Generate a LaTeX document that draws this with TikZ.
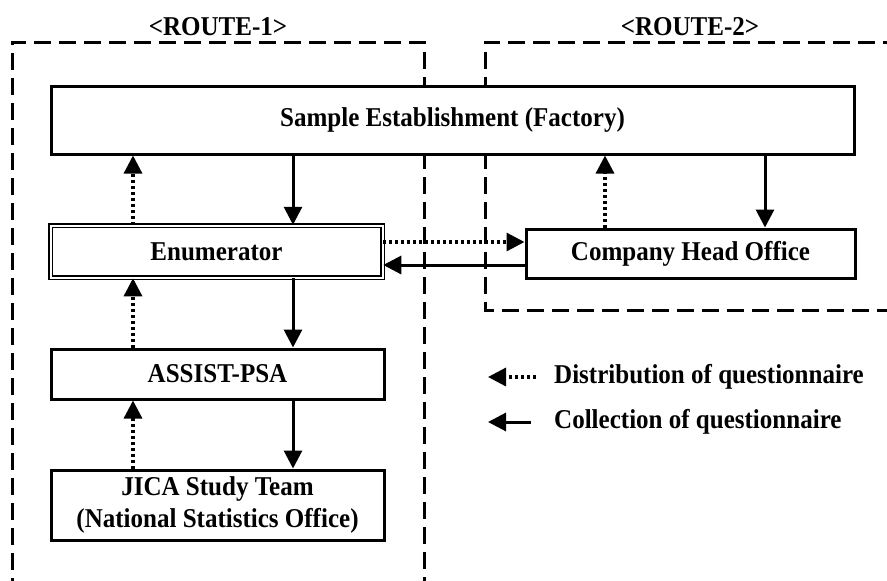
\documentclass[tikz,border=0pt]{standalone}
\usepackage{fontspec}
\setmainfont{Liberation Serif}[FakeStretch=0.92]
\usetikzlibrary{arrows.meta}
\begin{document}
\begin{tikzpicture}[x=1pt,y=-1pt,
  txt/.style={font=\bfseries\fontsize{27.2}{32}\selectfont},
  box/.style={draw, line width=3pt, fill=white, inner sep=0pt, txt},
  dbox/.style={draw, double, line width=1.5pt, double distance=2pt, inner sep=0pt, txt},
  route/.style={draw, line width=3pt, dash pattern=on 17pt off 8pt},
  coll/.style={line width=3pt, -{Triangle[width=18pt,length=18pt]}},
  dist/.style={line width=3.2pt, dash pattern=on 3pt off 3pt, -{Triangle[width=18pt,length=18pt]}},
  lbl/.style={inner sep=0pt, txt}]
\useasboundingbox (0,0) rectangle (887,581);
\clip (0,0) rectangle (887,581);
\fill[white] (0,0) rectangle (887,581);
% route frames
\draw[route] (12,595) -- (12,42) -- (424,42) -- (424,595);
\draw[route] (900,42) -- (485,42) -- (485,310) -- (900,310);
\node[lbl] (r1) at (218,27) {<ROUTE-1>};
\node[lbl] (r2) at (690,27) {<ROUTE-2>};
% boxes
\node[box, minimum width=803pt, minimum height=68pt] (sample) at (452.5,120) {Sample Establishment (Factory)};
\node[dbox, minimum width=332pt, minimum height=52pt] (enum) at (216.5,251.5) {Enumerator};
\node[box, minimum width=329pt, minimum height=49pt] (comp) at (690.5,253.5) {Company Head Office};
\node[box, minimum width=333pt, minimum height=50pt] (assist) at (217.5,374) {ASSIST-PSA};
\node[box, minimum width=333pt, minimum height=70pt, align=center] (jica) at (217.5,505) {JICA Study Team\\(National Statistics Office)};
% helper coordinates
\coordinate (cA) at (133,0);
\coordinate (cB) at (293,0);
\coordinate (cC) at (605,0);
\coordinate (cD) at (765,0);
\coordinate (rA) at (0,242);
\coordinate (rB) at (0,265);
% connectors
\draw[dist] (enum.north -| cA) -- (sample.south -| cA);
\draw[coll] (sample.south -| cB) -- (enum.north -| cB);
\draw[dist] (comp.north -| cC) -- (sample.south -| cC);
\draw[coll] (sample.south -| cD) -- (comp.north -| cD);
\draw[dist] (enum.east |- rA) -- (comp.west |- rA);
\draw[coll] (comp.west |- rB) -- (enum.east |- rB);
\draw[dist] (assist.north -| cA) -- (enum.south -| cA);
\draw[coll] (enum.south -| cB) -- (assist.north -| cB);
\draw[dist] (jica.north -| cA) -- (assist.south -| cA);
\draw[coll] (assist.south -| cB) -- (jica.north -| cB);
% legend
\node[lbl, anchor=west] (ld) at (554,377) {Distribution of questionnaire};
\node[lbl, anchor=west] (lc) at (554,422) {Collection of questionnaire};
\coordinate (ldS) at (536,377);
\coordinate (ldE) at (488,377);
\coordinate (lcS) at (531,422);
\coordinate (lcE) at (488,422);
\draw[dist] (ldS) -- (ldE);
\draw[coll] (lcS) -- (lcE);
\end{tikzpicture}
\end{document}
